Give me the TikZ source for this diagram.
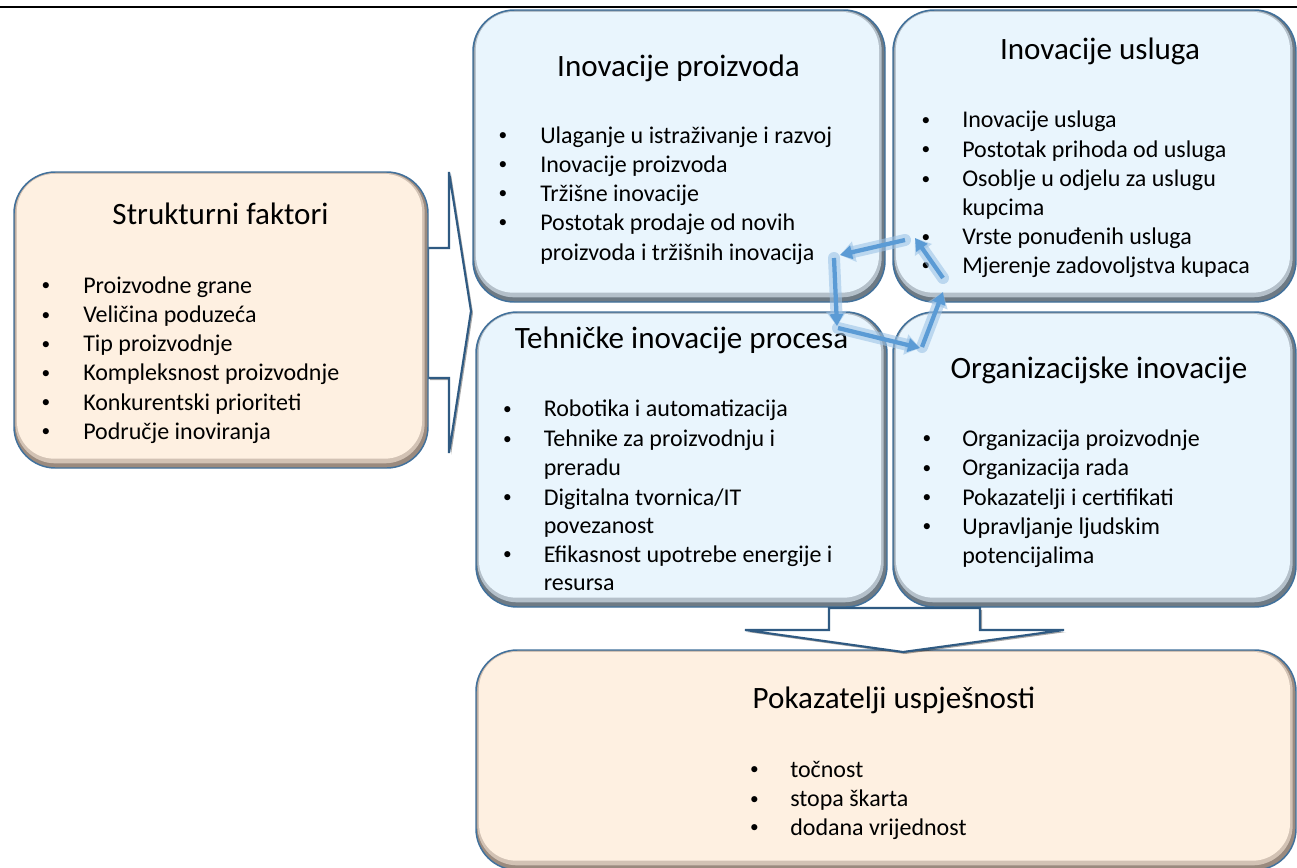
\documentclass[tikz,border=0pt]{standalone}
\usepackage{fontspec}
\setmainfont{Carlito}
\usetikzlibrary{arrows.meta}
\definecolor{bordc}{HTML}{41719C}
\definecolor{arrowc}{HTML}{2F5A82}
\definecolor{bluefill}{HTML}{E9F5FD}
\definecolor{bluemid}{HTML}{B4C0CA}
\definecolor{bevgray}{HTML}{6E7A84}
\definecolor{peachfill}{HTML}{FEF0E1}
\definecolor{peachmid}{HTML}{D2C2B4}
\definecolor{peachbev}{HTML}{9A8A7E}
\definecolor{cycc}{HTML}{5B9BD5}
\definecolor{glowc}{HTML}{9DC3E6}
\tikzset{
  bevbox/.style n args={3}{draw=bordc, line width=1.1pt, rounded corners=31pt,
    inner sep=0pt, fill=#3, path picture={
      \fill[#2, rounded corners=30pt]
        ([shift={(1pt,3.5pt)}]path picture bounding box.south west) rectangle
        ([shift={(-2.5pt,-0.5pt)}]path picture bounding box.north east);
      \fill[#1, rounded corners=28pt]
        ([shift={(2.2pt,7pt)}]path picture bounding box.south west) rectangle
        ([shift={(-4.5pt,-1.5pt)}]path picture bounding box.north east);
    }},
  bluebox/.style={bevbox={bluefill}{bluemid}{bevgray}},
  peachbox/.style={bevbox={peachfill}{peachmid}{peachbev}},
  itm/.style={font=\fontsize{18}{21.75}\selectfont, inner sep=0pt, anchor=base west},
  bul/.style={font=\fontsize{13}{16}\selectfont, inner sep=0pt, anchor=base, yshift=1.8pt},
  ttl/.style={font=\fontsize{23.3}{28}\selectfont, inner sep=0pt, anchor=base},
  blockarrow/.style={fill=white, draw=arrowc, line width=1.6pt, line join=miter},
  arrowshadow/.style={fill=black, opacity=0.35},
  cyc/.style={draw=cycc, line width=3.2pt, -{Triangle[length=9pt,width=10pt]}},
  glow/.style={draw=glowc, line width=9pt, opacity=0.6, line cap=round,
    -{Triangle[length=11pt,width=15pt]}}
}
\newcommand\BItem[5]{\node[bul] (#1b) at (#2,#4) {•}; \node[itm] (#1) at (#3,#4) {#5};}
\newcommand\CItem[4]{\node[itm] (#1) at (#2,#3) {#4};}
\begin{document}
\begin{tikzpicture}[x=0.75pt,y=-0.75pt]
\useasboundingbox (0,0) rectangle (1297,868);
\fill[white] (0,0) rectangle (1297,868);
% top rule
\draw[line width=1.1pt, black] (0,7) -- (1297,7);

% right block arrow (behind the left box)
\fill[arrowshadow] [shift={(2,2)}] (428,248) -- (449,248) -- (449,172) -- (471,311) -- (449,453) -- (449,378) -- (428,378) -- cycle;
\draw[blockarrow] (428,248) -- (449,248) -- (449,172) -- (471,311) -- (449,453) -- (449,378) -- (428,378) -- cycle;

% boxes
\node[peachbox, minimum width=310.5pt, minimum height=222pt] (struk) at (221,320) {};
\node[bluebox, minimum width=309pt, minimum height=219pt] (proiz) at (679,156) {};
\node[bluebox, minimum width=302.25pt, minimum height=219pt] (usl) at (1094.5,156) {};
\node[bluebox, minimum width=308.25pt, minimum height=221.25pt] (teh) at (681.5,459.5) {};
\node[bluebox, minimum width=302.25pt, minimum height=221.25pt] (org) at (1094.5,459.5) {};
\node[peachbox, minimum width=615pt, minimum height=165pt] (pok) at (886,760) {};

% down block arrow
\fill[arrowshadow] [shift={(2,2)}] (829,608) -- (980,608) -- (980,630) -- (1064,630) -- (903,652) -- (745,630) -- (829,630) -- cycle;
\draw[blockarrow] (829,608) -- (980,608) -- (980,630) -- (1064,630) -- (903,652) -- (745,630) -- (829,630) -- cycle;

% Strukturni faktori
\node[ttl] (strukT) at (220.5,224) {Strukturni faktori};
\BItem{s1}{46}{83}{293}{Proizvodne grane}
\BItem{s2}{46}{83}{322.5}{Veličina poduzeća}
\BItem{s3}{46}{83}{351.5}{Tip proizvodnje}
\BItem{s4}{46}{83}{380.5}{Kompleksnost proizvodnje}
\BItem{s5}{46}{83}{410}{Konkurentski prioriteti}
\BItem{s6}{46}{83}{439}{Područje inoviranja}

% Inovacije proizvoda
\node[ttl] (proizT) at (678.5,76) {Inovacije proizvoda};
\BItem{p1}{503}{540}{143}{Ulaganje u istraživanje i razvoj}
\BItem{p2}{503}{540}{172}{Inovacije proizvoda}
\BItem{p3}{503}{540}{201}{Tržišne inovacije}
\BItem{p4}{503}{540}{230}{Postotak prodaje od novih}
\CItem{p5}{540}{260}{proizvoda i tržišnih inovacija}

% Inovacije usluga
\node[ttl] (uslT) at (1100,59.3) {Inovacije usluga};
\BItem{u1}{926}{962}{127.5}{Inovacije usluga}
\BItem{u2}{926}{962}{157}{Postotak prihoda od usluga}
\BItem{u3}{926}{962}{186.5}{Osoblje u odjelu za uslugu}
\CItem{u4}{962}{215.5}{kupcima}
\BItem{u5}{926}{962}{244.5}{Vrste ponuđenih usluga}
\BItem{u6}{926}{962}{273}{Mjerenje zadovoljstva kupaca}

% Tehnicke inovacije procesa
\node[ttl] (tehT) at (681.5,348.3) {Tehničke inovacije procesa};
\BItem{t1}{507.5}{543.5}{416.7}{Robotika i automatizacija}
\BItem{t2}{507.5}{543.5}{446.5}{Tehnike za proizvodnju i}
\CItem{t3}{543.5}{475.5}{preradu}
\BItem{t4}{507.5}{543.5}{505}{Digitalna tvornica/IT}
\CItem{t5}{543.5}{533.5}{povezanost}
\BItem{t6}{507.5}{543.5}{562}{Efikasnost upotrebe energije i}
\CItem{t7}{543.5}{590.5}{resursa}

% Organizacijske inovacije
\node[ttl] (orgT) at (1099,378.5) {Organizacijske inovacije};
\BItem{o1}{927}{962}{446}{Organizacija proizvodnje}
\BItem{o2}{927}{962}{475.5}{Organizacija rada}
\BItem{o3}{927}{962}{505}{Pokazatelji i certifikati}
\BItem{o4}{927}{962}{534}{Upravljanje ljudskim}
\CItem{o5}{962}{563}{potencijalima}

% Pokazatelji uspjesnosti
\node[ttl] (pokT) at (894,708.3) {Pokazatelji uspješnosti};
\BItem{k1}{754.5}{790}{777.3}{točnost}
\BItem{k2}{754.5}{790}{806.5}{stopa škarta}
\BItem{k3}{754.5}{790}{835}{dodana vrijednost}

% cycle arrows
\coordinate (c1s) at (905,240); \coordinate (c1e) at (840,255);
\coordinate (c2s) at (834,258); \coordinate (c2e) at (837,326);
\coordinate (c3s) at (838,328); \coordinate (c3e) at (920,348);
\coordinate (c4s) at (922,347); \coordinate (c4e) at (943,292);
\coordinate (c5s) at (943,278); \coordinate (c5e) at (915,238);
\foreach \s/\e in {c1s/c1e,c2s/c2e,c3s/c3e,c4s/c4e,c5s/c5e}
  \draw[glow] (\s) -- (\e);
\foreach \s/\e in {c1s/c1e,c2s/c2e,c3s/c3e,c4s/c4e,c5s/c5e}
  \draw[cyc] (\s) -- (\e);
\end{tikzpicture}
\end{document}
